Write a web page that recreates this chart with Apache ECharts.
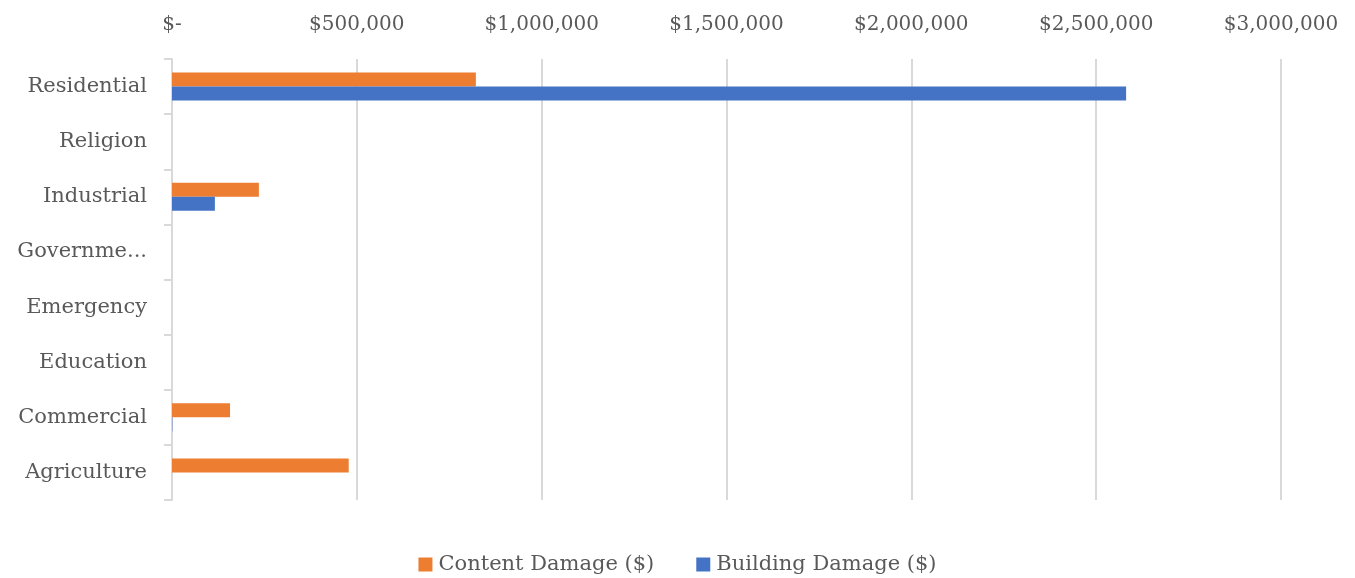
<!DOCTYPE html>
<html>
<head>
<meta charset="utf-8">
<script src="https://cdn.jsdelivr.net/npm/echarts@6/dist/echarts.min.js"></script>
<style>
  html, body { margin: 0; padding: 0; background: #ffffff; }
  #chart { width: 1355px; height: 578px; }
</style>
</head>
<body>
<div id="chart"></div>
<script>
// Occupancy categories, bottom to top
const categories = ['Agriculture', 'Commercial', 'Education', 'Emergency', 'Government', 'Industrial', 'Religion', 'Residential'];
// Damage by occupancy type (US dollars)
const contentDamage = [478000, 157000, 0, 0, 0, 235000, 0, 822000];
const buildingDamage = [0, 1000, 0, 0, 0, 116000, 0, 2581000];
const seriesNames = ['Content Damage ($)', 'Building Damage ($)'];

const FONT = 'DejaVu Serif';
const TEXT = '#595959';

function money(v) {
  if (v === 0) return '$-';
  return '$' + v.toString().replace(/\B(?=(\d{3})+(?!\d))/g, ',');
}

const chart = echarts.init(document.getElementById('chart'), null, { renderer: 'canvas' });
chart.setOption({
  animation: false,
  textStyle: { fontFamily: FONT },
  grid: { left: 172, right: 74, top: 59, bottom: 78, containLabel: false },
  legend: {
    top: 549,
    left: 'center',
    itemWidth: 14,
    itemHeight: 14,
    itemGap: 42,
    icon: 'rect',
    textStyle: { fontFamily: FONT, fontSize: 21, color: TEXT, padding: [0, 0, 0, 1] },
    data: seriesNames
  },
  xAxis: {
    type: 'value',
    position: 'top',
    min: 0,
    max: 3000000,
    interval: 500000,
    axisLine: { show: false },
    axisTick: { show: false },
    splitLine: { show: true, lineStyle: { color: '#d9d9d9', width: 2 } },
    axisLabel: { formatter: money, fontFamily: FONT, fontSize: 20, color: TEXT, margin: 24 }
  },
  yAxis: {
    type: 'category',
    data: categories,
    axisLine: { show: true, lineStyle: { color: '#d9d9d9', width: 2 } },
    axisTick: { show: true, length: 8, lineStyle: { color: '#d9d9d9', width: 2 } },
    axisLabel: {
      fontFamily: FONT, fontSize: 21, color: TEXT, margin: 25,
      width: 132, overflow: 'truncate', ellipsis: '...'
    }
  },
  series: [
    {
      name: seriesNames[0],
      type: 'bar',
      data: contentDamage,
      barWidth: 14,
      barGap: '0%',
      itemStyle: { color: '#ED7D31' }
    },
    {
      name: seriesNames[1],
      type: 'bar',
      data: buildingDamage,
      barWidth: 14,
      barGap: '0%',
      itemStyle: { color: '#4472C4' }
    }
  ]
});
</script>
</body>
</html>
